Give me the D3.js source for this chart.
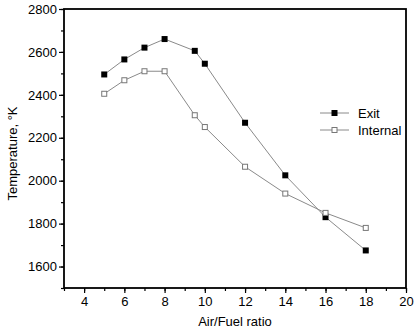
<!DOCTYPE html>
<html>
<head>
<meta charset="utf-8">
<script src="https://cdn.jsdelivr.net/npm/d3@7"></script>
<style>
  body { margin: 0; background: #fff; }
  text { font-family: "Liberation Sans", Arial, sans-serif; }
</style>
</head>
<body>
<div id="container"></div>
<script>
// data
let afRatio = [5, 6, 7, 8, 9.5, 10, 12, 14, 16, 18];
let exitTemp = [2495, 2565, 2620, 2660, 2605, 2545, 2270, 2025, 1830, 1675];
let internalTemp = [2405, 2468, 2510, 2510, 2305, 2250, 2065, 1940, 1850, 1780];
let xTicks = [4, 6, 8, 10, 12, 14, 16, 18, 20];
let yTicks = [1600, 1800, 2000, 2200, 2400, 2600, 2800];
let seriesNames = ["Exit", "Internal"];

let w = 418;
let h = 333;
let plotLeft = 64, plotRight = 406, plotTop = 9, plotBottom = 288;

let viz = d3.select("#container")
  .append("svg")
    .attr("width", w)
    .attr("height", h)
;

let xScale = d3.scaleLinear().domain([3, 20]).range([plotLeft, plotRight]);
let yScale = d3.scaleLinear().domain([1500, 2800]).range([plotBottom, plotTop]);

// minor ticks first
let xMinor = d3.axisBottom(xScale).tickValues(d3.range(3, 21, 1)).tickSize(3).tickFormat("");
viz.append("g").attr("transform", "translate(0," + plotBottom + ")").call(xMinor);
let yMinor = d3.axisLeft(yScale).tickValues(d3.range(1500, 2801, 100)).tickSize(3).tickFormat("");
viz.append("g").attr("transform", "translate(" + plotLeft + ",0)").call(yMinor);

let xAxis = d3.axisBottom(xScale).tickValues(xTicks).tickSize(5).tickPadding(4).tickFormat(d3.format("d"));
let xAxisGroup = viz.append("g")
    .attr("transform", "translate(0," + plotBottom + ")")
    .call(xAxis);
let yAxis = d3.axisLeft(yScale).tickValues(yTicks).tickSize(5).tickPadding(2).tickFormat(d3.format("d"));
let yAxisGroup = viz.append("g")
    .attr("transform", "translate(" + plotLeft + ",0)")
    .call(yAxis);

viz.selectAll(".domain").remove();
viz.selectAll(".tick line").attr("stroke", "#000").attr("stroke-width", 1.2);
viz.selectAll(".tick text").attr("font-size", 13).attr("fill", "#000")
    .attr("font-family", "'Liberation Sans', Arial, sans-serif");

// frame
viz.append("rect")
  .attr("x", plotLeft).attr("y", plotTop)
  .attr("width", plotRight - plotLeft).attr("height", plotBottom - plotTop)
  .attr("fill", "none").attr("stroke", "#000").attr("stroke-width", 1.8);

let exitData = afRatio.map(function(x, i){ return { x: x, y: exitTemp[i] }; });
let internalData = afRatio.map(function(x, i){ return { x: x, y: internalTemp[i] }; });

let lineMaker = d3.line()
  .x(function(d){ return xScale(d.x); })
  .y(function(d){ return yScale(d.y); });

viz.append("path").datum(exitData)
  .attr("d", lineMaker).attr("fill", "none").attr("stroke", "#8a8a8a").attr("stroke-width", 1);
viz.append("path").datum(internalData)
  .attr("d", lineMaker).attr("fill", "none").attr("stroke", "#8a8a8a").attr("stroke-width", 1);

let s = 6;
viz.selectAll(".exitPt").data(exitData).enter().append("rect")
  .attr("x", function(d){ return xScale(d.x) - s/2; })
  .attr("y", function(d){ return yScale(d.y) - s/2; })
  .attr("width", s).attr("height", s)
  .attr("fill", "#000");
viz.selectAll(".intPt").data(internalData).enter().append("rect")
  .attr("x", function(d){ return xScale(d.x) - s/2 + 0.5; })
  .attr("y", function(d){ return yScale(d.y) - s/2 + 0.5; })
  .attr("width", s - 1).attr("height", s - 1)
  .attr("fill", "#fff").attr("stroke", "#777").attr("stroke-width", 1);

// legend
let legend = viz.append("g").attr("transform", "translate(320,113)");
seriesNames.forEach(function(name, i){
  let g = legend.append("g").attr("transform", "translate(0," + (i * 17) + ")");
  g.append("line").attr("x1", 0).attr("x2", 29).attr("y1", 0).attr("y2", 0)
    .attr("stroke", "#8a8a8a").attr("stroke-width", 1);
  if (i == 0) {
    g.append("rect").attr("x", 14.5 - s/2).attr("y", -s/2).attr("width", s).attr("height", s).attr("fill", "#000");
  } else {
    g.append("rect").attr("x", 14.5 - s/2 + 0.5).attr("y", -s/2 + 0.5).attr("width", s - 1).attr("height", s - 1)
      .attr("fill", "#fff").attr("stroke", "#777");
  }
  g.append("text").attr("x", 38).attr("y", 5).attr("font-size", 13).text(name);
});

// axis titles
viz.append("text")
  .attr("x", (plotLeft + plotRight) / 2).attr("y", 326)
  .attr("text-anchor", "middle").attr("font-size", 13)
  .text("Air/Fuel ratio");
viz.append("text")
  .attr("transform", "translate(17," + ((plotTop + plotBottom) / 2 + 5) + ") rotate(-90)")
  .attr("text-anchor", "middle").attr("font-size", 13)
  .text("Temperature, °K");
</script>
</body>
</html>
